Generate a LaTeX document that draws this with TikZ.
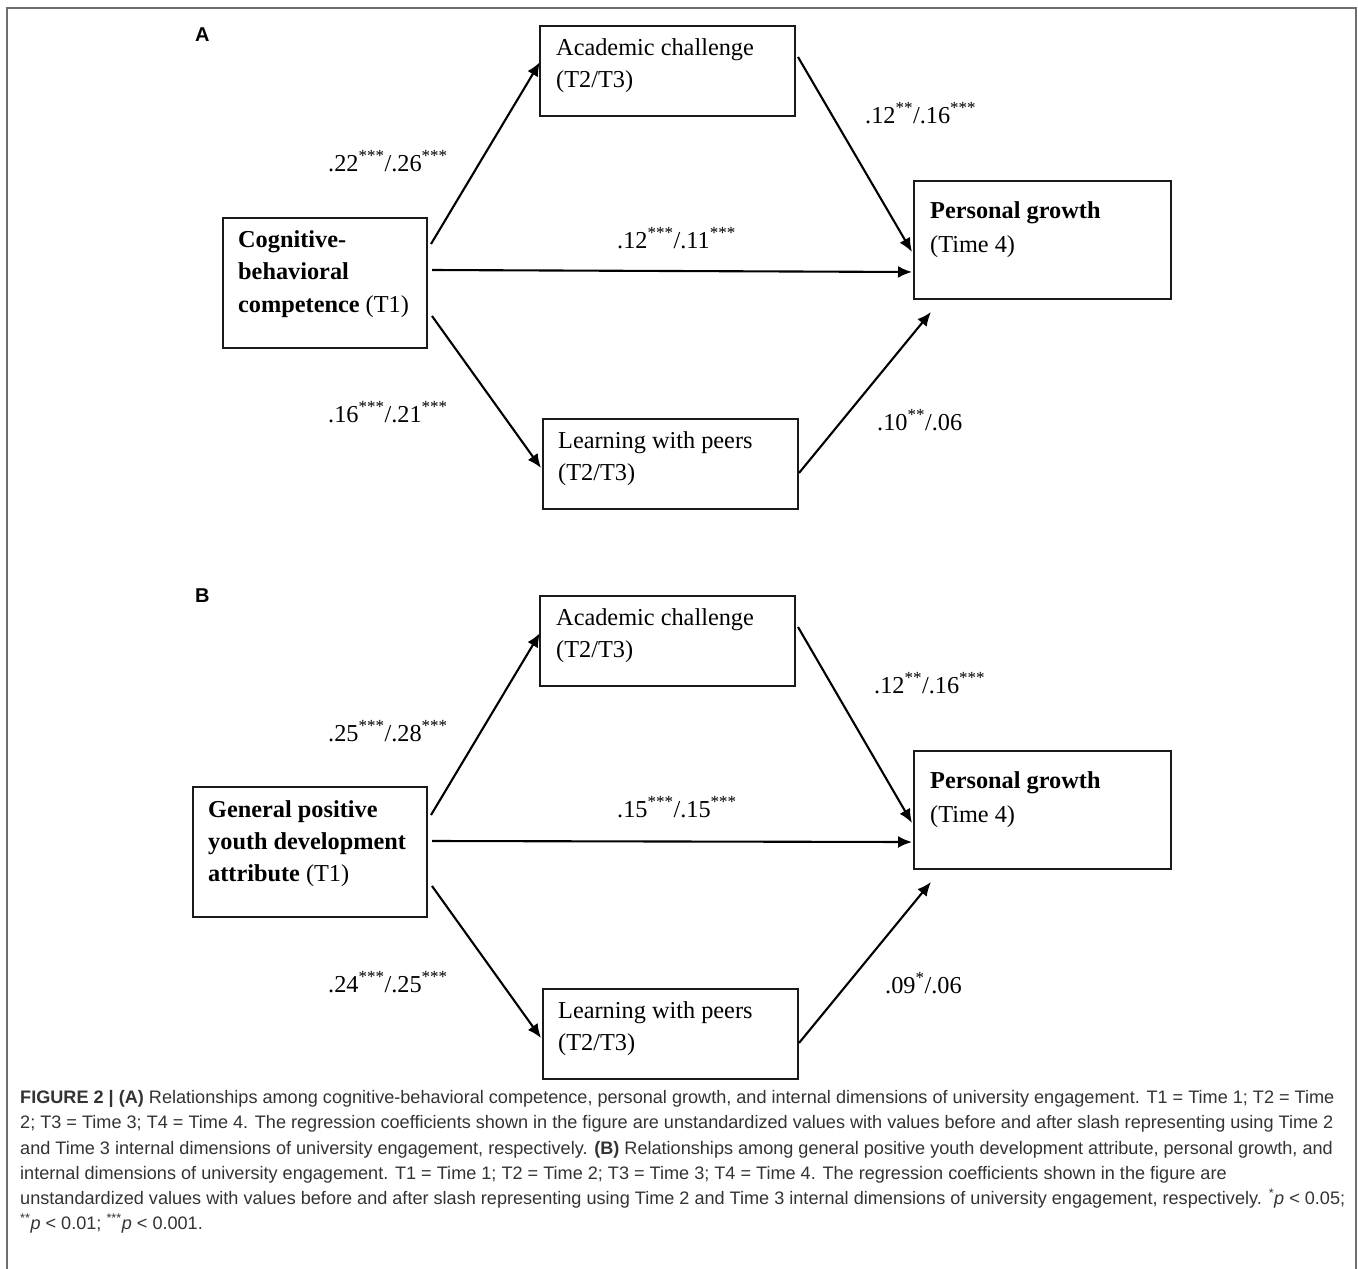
\documentclass[tikz,border=0pt]{standalone}
\usepackage{fontspec}
\setmainfont{Liberation Serif}
\setsansfont{Liberation Sans}
\usetikzlibrary{arrows.meta,calc}
\definecolor{framegray}{HTML}{6E6E6E}
\definecolor{captext}{HTML}{333333}
\definecolor{boxline}{HTML}{1A1A1A}
\begin{document}
\begin{tikzpicture}[x=1pt,y=-1pt,
  boxnode/.style={draw=boxline,line width=2pt,rectangle,inner sep=0pt,anchor=north west},
  txt/.style={anchor=base west,inner sep=0pt,font=\fontsize{24.3}{30}\selectfont},
  coef/.style={anchor=base west,inner sep=0pt,font=\fontsize{24.3}{30}\selectfont},
  panel/.style={anchor=base west,inner sep=0pt,font=\sffamily\bfseries\fontsize{20}{22}\selectfont},
  captionline/.style={anchor=base west,inner sep=0pt,text=captext,font=\sffamily\fontsize{18.1}{22}\selectfont},
  arr/.style={line width=2.1pt,-{Latex[length=14pt,width=12pt]}}]
\useasboundingbox (0,0) rectangle (1358,1269);
\fill[white] (0,0) rectangle (1358,1269);
% outer frame (open at bottom)
\draw[framegray,line width=2pt] (7,1275) -- (7,8) -- (1356,8) -- (1356,1275);

% ===== Panel A =====
\node[panel] (labA) at (195,41) {A};
\node[boxnode,minimum width=255pt,minimum height=90pt] (acA) at (539,25) {};
\node[boxnode,minimum width=204pt,minimum height=130pt] (cogA) at (222,217) {};
\node[boxnode,minimum width=257pt,minimum height=118pt] (persA) at (913,180) {};
\node[boxnode,minimum width=255pt,minimum height=90pt] (learnA) at (542,418) {};

\node[txt] (acAt1) at (556,55) {Academic challenge};
\node[txt] (acAt2) at (556,87) {(T2/T3)};
\node[txt] (cogAt1) at (238,247) {\textbf{Cognitive-}};
\node[txt] (cogAt2) at (238,279) {\textbf{behavioral}};
\node[txt] (cogAt3) at (238,312) {\textbf{competence} (T1)};
\node[txt] (persAt1) at (930,218) {\textbf{Personal growth}};
\node[txt] (persAt2) at (930,252) {(Time 4)};
\node[txt] (learnAt1) at (558,448) {Learning with peers};
\node[txt] (learnAt2) at (558,480) {(T2/T3)};

\draw[arr] ([shift={(3,27)}]cogA.north east) -- ([shift={(1,37)}]acA.north west);
\draw[arr] ([shift={(4,53)}]cogA.north east) -- ([shift={(-1,92)}]persA.north west);
\draw[arr] ([shift={(2,32)}]acA.north east) -- ([shift={(-1,72)}]persA.north west);
\draw[arr] ([shift={(4,99)}]cogA.north east) -- ([shift={(-1,50)}]learnA.north west);
\draw[arr] ([shift={(0,55)}]learnA.north east) -- ([shift={(18,12)}]persA.south west);

\node[coef] (cA1) at (328,171) {.22\textsuperscript{***}/.26\textsuperscript{***}};
\node[coef] (cA2) at (617,248) {.12\textsuperscript{***}/.11\textsuperscript{***}};
\node[coef] (cA3) at (865,123) {.12\textsuperscript{**}/.16\textsuperscript{***}};
\node[coef] (cA4) at (328,422) {.16\textsuperscript{***}/.21\textsuperscript{***}};
\node[coef] (cA5) at (877,430) {.10\textsuperscript{**}/.06};

% ===== Panel B =====
\node[panel] (labB) at (195,602) {B};
\node[boxnode,minimum width=255pt,minimum height=90pt] (acB) at (539,595) {};
\node[boxnode,minimum width=234pt,minimum height=130pt] (genB) at (192,786) {};
\node[boxnode,minimum width=257pt,minimum height=118pt] (persB) at (913,750) {};
\node[boxnode,minimum width=255pt,minimum height=90pt] (learnB) at (542,988) {};

\node[txt] (acBt1) at (556,625) {Academic challenge};
\node[txt] (acBt2) at (556,657) {(T2/T3)};
\node[txt] (genBt1) at (208,817) {\textbf{General positive}};
\node[txt] (genBt2) at (208,849) {\textbf{youth development}};
\node[txt] (genBt3) at (208,881) {\textbf{attribute} (T1)};
\node[txt] (persBt1) at (930,788) {\textbf{Personal growth}};
\node[txt] (persBt2) at (930,822) {(Time 4)};
\node[txt] (learnBt1) at (558,1018) {Learning with peers};
\node[txt] (learnBt2) at (558,1050) {(T2/T3)};

\draw[arr] ([shift={(3,29)}]genB.north east) -- ([shift={(1,38)}]acB.north west);
\draw[arr] ([shift={(4,55)}]genB.north east) -- ([shift={(-1,92)}]persB.north west);
\draw[arr] ([shift={(2,32)}]acB.north east) -- ([shift={(-1,73)}]persB.north west);
\draw[arr] ([shift={(4,100)}]genB.north east) -- ([shift={(-1,50)}]learnB.north west);
\draw[arr] ([shift={(0,55)}]learnB.north east) -- ([shift={(18,12)}]persB.south west);

\node[coef] (cB1) at (328,741) {.25\textsuperscript{***}/.28\textsuperscript{***}};
\node[coef] (cB2) at (617,817) {.15\textsuperscript{***}/.15\textsuperscript{***}};
\node[coef] (cB3) at (874,693) {.12\textsuperscript{**}/.16\textsuperscript{***}};
\node[coef] (cB4) at (328,992) {.24\textsuperscript{***}/.25\textsuperscript{***}};
\node[coef] (cB5) at (885,993) {.09\textsuperscript{*}/.06};

% ===== Caption =====
\node[captionline] (cap1) at (20,1103) {\textbf{FIGURE 2 | (A)} Relationships among cognitive-behavioral competence, personal growth, and internal dimensions of university engagement. T1 = Time 1; T2 = Time};
\node[captionline] (cap2) at (20,1128) {2; T3 = Time 3; T4 = Time 4. The regression coefficients shown in the figure are unstandardized values with values before and after slash representing using Time 2};
\node[captionline] (cap3) at (20,1154) {and Time 3 internal dimensions of university engagement, respectively. \textbf{(B)} Relationships among general positive youth development attribute, personal growth, and};
\node[captionline] (cap4) at (20,1179) {internal dimensions of university engagement. T1 = Time 1; T2 = Time 2; T3 = Time 3; T4 = Time 4. The regression coefficients shown in the figure are};
\node[captionline] (cap5) at (20,1204) {unstandardized values with values before and after slash representing using Time 2 and Time 3 internal dimensions of university engagement, respectively. \textsuperscript{*}\textit{p} < 0.05;};
\node[captionline] (cap6) at (20,1229) {\textsuperscript{**}\textit{p} < 0.01; \textsuperscript{***}\textit{p} < 0.001.};
\end{tikzpicture}
\end{document}
